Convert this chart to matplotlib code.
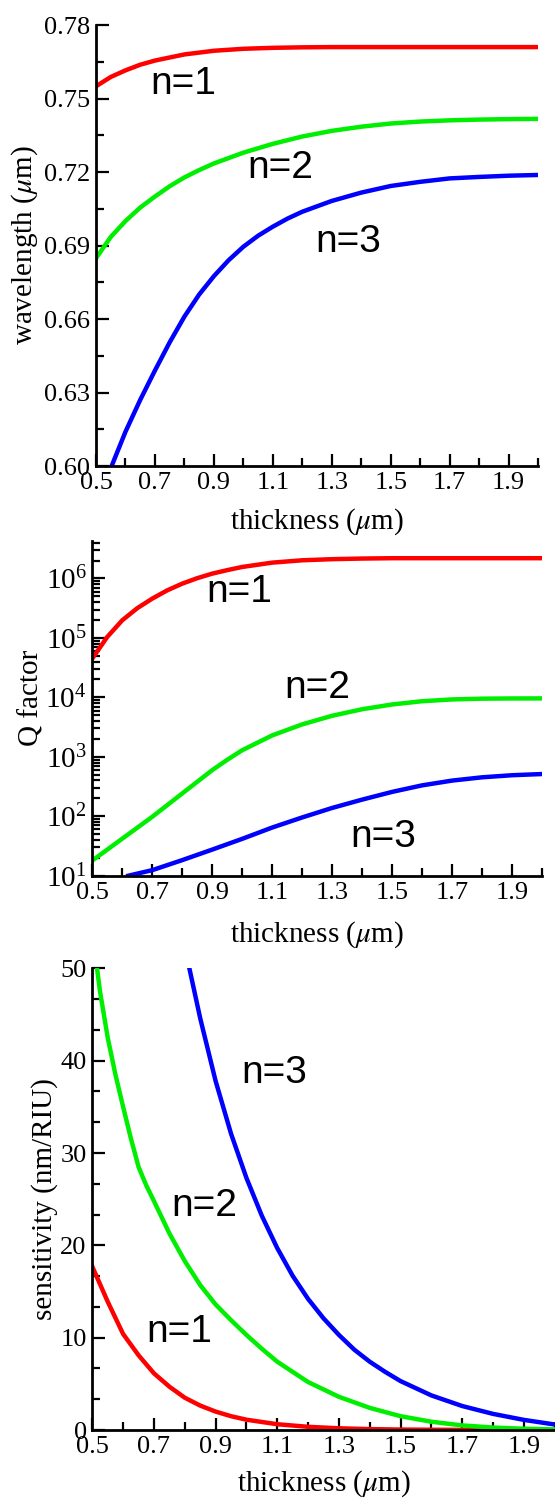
import matplotlib
matplotlib.use("Agg")
import matplotlib.pyplot as plt
from matplotlib.ticker import MultipleLocator, FixedLocator, LogLocator, FormatStrFormatter, NullFormatter

plt.rcParams['font.family'] = ['Liberation Serif', 'DejaVu Serif']
plt.rcParams['mathtext.fontset'] = 'stix'

# ---- panel 1: resonance wavelength (um) vs thickness (um)
wl_x1 = [0.5, 0.55, 0.6, 0.65, 0.7, 0.8, 0.9, 1.0, 1.1, 1.2, 1.3, 1.4, 1.5, 1.6, 1.7, 1.8, 1.9, 2.0]
wl_n1 = [0.755, 0.7588, 0.7615, 0.7638, 0.7655, 0.768, 0.7695, 0.7703, 0.7707, 0.7709,
         0.771, 0.771, 0.771, 0.771, 0.771, 0.771, 0.771, 0.771]
wl_x2 = [0.5, 0.55, 0.6, 0.65, 0.7, 0.75, 0.8, 0.85, 0.9, 1.0, 1.1, 1.2, 1.3, 1.4, 1.5,
         1.6, 1.7, 1.8, 1.9, 2.0]
wl_n2 = [0.6848, 0.6935, 0.700, 0.7055, 0.7100, 0.7142, 0.7178, 0.7208, 0.7235, 0.7279,
         0.7315, 0.7345, 0.7368, 0.7385, 0.7398, 0.7406, 0.7411, 0.7414, 0.7416, 0.7417]
wl_x3 = [0.553, 0.6, 0.65, 0.7, 0.75, 0.8, 0.85, 0.9, 0.95, 1.0, 1.05, 1.1, 1.15, 1.2,
         1.3, 1.4, 1.5, 1.6, 1.7, 1.8, 1.9, 2.0]
wl_n3 = [0.600, 0.614, 0.627, 0.639, 0.6505, 0.661, 0.670, 0.6775, 0.684, 0.6895, 0.694,
         0.6977, 0.701, 0.7038, 0.7082, 0.7116, 0.7143, 0.716, 0.7174, 0.718, 0.7185, 0.7188]

# ---- panel 2: Q factor
q_x1 = [0.5, 0.55, 0.6, 0.65, 0.7, 0.75, 0.8, 0.85, 0.9, 0.95, 1.0, 1.1, 1.2, 1.3, 1.4,
        1.5, 1.6, 1.7, 1.8, 1.9, 2.0]
q_n1 = [4.5e4, 1.04e5, 1.98e5, 3.16e5, 4.58e5, 6.31e5, 8.18e5, 1.01e6, 1.205e6, 1.38e6,
        1.56e6, 1.845e6, 2.02e6, 2.11e6, 2.16e6, 2.19e6, 2.19e6, 2.19e6, 2.19e6, 2.19e6, 2.19e6]
q_x2 = [0.5, 0.6, 0.7, 0.8, 0.9, 0.95, 1.0, 1.1, 1.2, 1.3, 1.4, 1.5, 1.6, 1.7, 1.8, 1.9, 2.0]
q_n2 = [18, 42, 98, 242, 597, 890, 1290, 2290, 3510, 4900, 6310, 7590, 8610, 9230, 9500,
        9580, 9600]
q_x3 = [0.62, 0.7, 0.8, 0.9, 1.0, 1.1, 1.2, 1.3, 1.4, 1.5, 1.6, 1.7, 1.8, 1.9, 2.0]
q_n3 = [10, 12.4, 18.3, 27.5, 41.7, 64.6, 95.5, 138, 190.5, 257, 331, 398, 452, 490, 513]

# ---- panel 3: sensitivity (nm/RIU)
s_x1 = [0.5, 0.55, 0.6, 0.65, 0.7, 0.75, 0.8, 0.85, 0.9, 0.95, 1.0, 1.1, 1.2, 1.3, 1.4,
        1.5, 1.6, 1.7, 1.8, 1.9, 2.0]
s_n1 = [17.7, 13.9, 10.4, 8.1, 6.14, 4.7, 3.5, 2.65, 2.0, 1.5, 1.12, 0.63, 0.35, 0.19,
        0.1, 0.055, 0.03, 0.015, 0.008, 0.004, 0.002]
s_x2 = [0.5, 0.525, 0.55, 0.575, 0.6, 0.625, 0.65, 0.675, 0.7, 0.75, 0.8, 0.85, 0.9, 0.95,
        1.0, 1.05, 1.1, 1.2, 1.3, 1.4, 1.5, 1.6, 1.7, 1.8, 1.9, 2.0]
s_n2 = [54, 47.5, 42.5, 38.5, 35, 31.6, 28.5, 26.5, 24.8, 21.3, 18.3, 15.7, 13.6, 11.9,
        10.3, 8.8, 7.4, 5.2, 3.6, 2.4, 1.5, 0.9, 0.5, 0.27, 0.14, 0.07]
s_x3 = [0.8, 0.85, 0.9, 0.95, 1.0, 1.05, 1.1, 1.15, 1.2, 1.25, 1.3, 1.35, 1.4, 1.45, 1.5,
        1.6, 1.7, 1.8, 1.9, 2.0]
s_n3 = [52.3, 44.6, 37.8, 32.1, 27.3, 23.2, 19.7, 16.7, 14.2, 12.1, 10.3, 8.7, 7.4, 6.3,
        5.3, 3.75, 2.6, 1.75, 1.1, 0.6]

labels = ['n=1', 'n=2', 'n=3']
colors = ['#ff0000', '#00ee00', '#0000ff']

wl_lab = [(0.796, 0.756), (1.126, 0.7218), (1.357, 0.6916)]
q_lab = [(0.99, 10 ** 5.78), (1.25, 10 ** 4.15), (1.47, 10 ** 1.645)]
s_lab = [(0.782, 10.6), (0.862, 24.3), (1.089, 38.7)]

fig = plt.figure(figsize=(5.55, 14.99), dpi=100)
ax1 = fig.add_axes([0.173, 0.6891, 0.7964, 0.2942])
ax2 = fig.add_axes([0.1663, 0.4158, 0.8103, 0.2233])
ax3 = fig.add_axes([0.1663, 0.046, 0.8332, 0.308])


def style(ax):
    ax.patch.set_alpha(0)
    for s in ['top', 'right']:
        ax.spines[s].set_visible(False)
    for s in ['left', 'bottom']:
        ax.spines[s].set_linewidth(2)
    ax.tick_params(which='both', direction='in', width=1.6, labelsize=19)
    ax.tick_params(which='major', length=9)
    ax.tick_params(which='minor', length=6)
    ax.tick_params(axis='y', pad=4)
    ax.tick_params(axis='x', pad=4.5)
    ax.set_xlim(0.5, 2.0)
    ax.xaxis.set_major_locator(FixedLocator([0.5, 0.7, 0.9, 1.1, 1.3, 1.5, 1.7, 1.9]))
    ax.xaxis.set_minor_locator(FixedLocator([0.6, 0.8, 1.0, 1.2, 1.4, 1.6, 1.8, 2.0]))
    ax.xaxis.set_major_formatter(FormatStrFormatter('%.1f'))
    ax.set_xlabel(r'thickness ($\mu$m)', fontsize=21, va='center')


lw = 3.2

style(ax1)
ax1.plot(wl_x1, wl_n1, color=colors[0], lw=lw)
ax1.plot(wl_x2, wl_n2, color=colors[1], lw=lw)
ax1.plot(wl_x3, wl_n3, color=colors[2], lw=lw)
ax1.set_ylim(0.60, 0.78)
ax1.yaxis.set_major_locator(MultipleLocator(0.03))
ax1.yaxis.set_minor_locator(MultipleLocator(0.015))
ax1.yaxis.set_major_formatter(FormatStrFormatter('%.2f'))
ax1.set_ylabel(r'wavelength ($\mu$m)', fontsize=21, va='center')
ax1.yaxis.set_label_coords(-0.161, 0.5)
ax1.xaxis.set_label_coords(0.5, -0.127)

style(ax2)
ax2.plot(q_x1, q_n1, color=colors[0], lw=lw)
ax2.plot(q_x2, q_n2, color=colors[1], lw=lw)
ax2.plot(q_x3, q_n3, color=colors[2], lw=lw)
ax2.set_yscale('log')
ax2.set_ylim(10, 10 ** 6.63)
ax2.yaxis.set_major_locator(LogLocator(base=10, numticks=20))
ax2.yaxis.set_minor_locator(LogLocator(base=10, subs=range(2, 10), numticks=20))
ax2.yaxis.set_minor_formatter(NullFormatter())
ax2.tick_params(axis='y', which='major', labelsize=21)
ax2.set_ylabel('Q factor', fontsize=21, va='center')
ax2.yaxis.set_label_coords(-0.136, 0.53)
ax2.xaxis.set_label_coords(0.5, -0.177)

style(ax3)
ax3.plot(s_x1, s_n1, color=colors[0], lw=lw)
ax3.plot(s_x2, s_n2, color=colors[1], lw=lw)
ax3.plot(s_x3, s_n3, color=colors[2], lw=lw)
ax3.set_ylim(0, 50)
ax3.yaxis.set_major_locator(MultipleLocator(10))
ax3.yaxis.set_minor_locator(MultipleLocator(10 / 3))
ax3.set_ylabel('sensitivity (nm/RIU)', fontsize=21, va='center')
ax3.yaxis.set_label_coords(-0.104, 0.5)
ax3.xaxis.set_label_coords(0.5, -0.117)

for ax, pos in [(ax1, wl_lab), (ax2, q_lab), (ax3, s_lab)]:
    for lab, (x, y) in zip(labels, pos):
        ax.text(x, y, lab, fontsize=28, family='Liberation Sans', ha='center', va='center')

fig.savefig('out.png', dpi=100)
